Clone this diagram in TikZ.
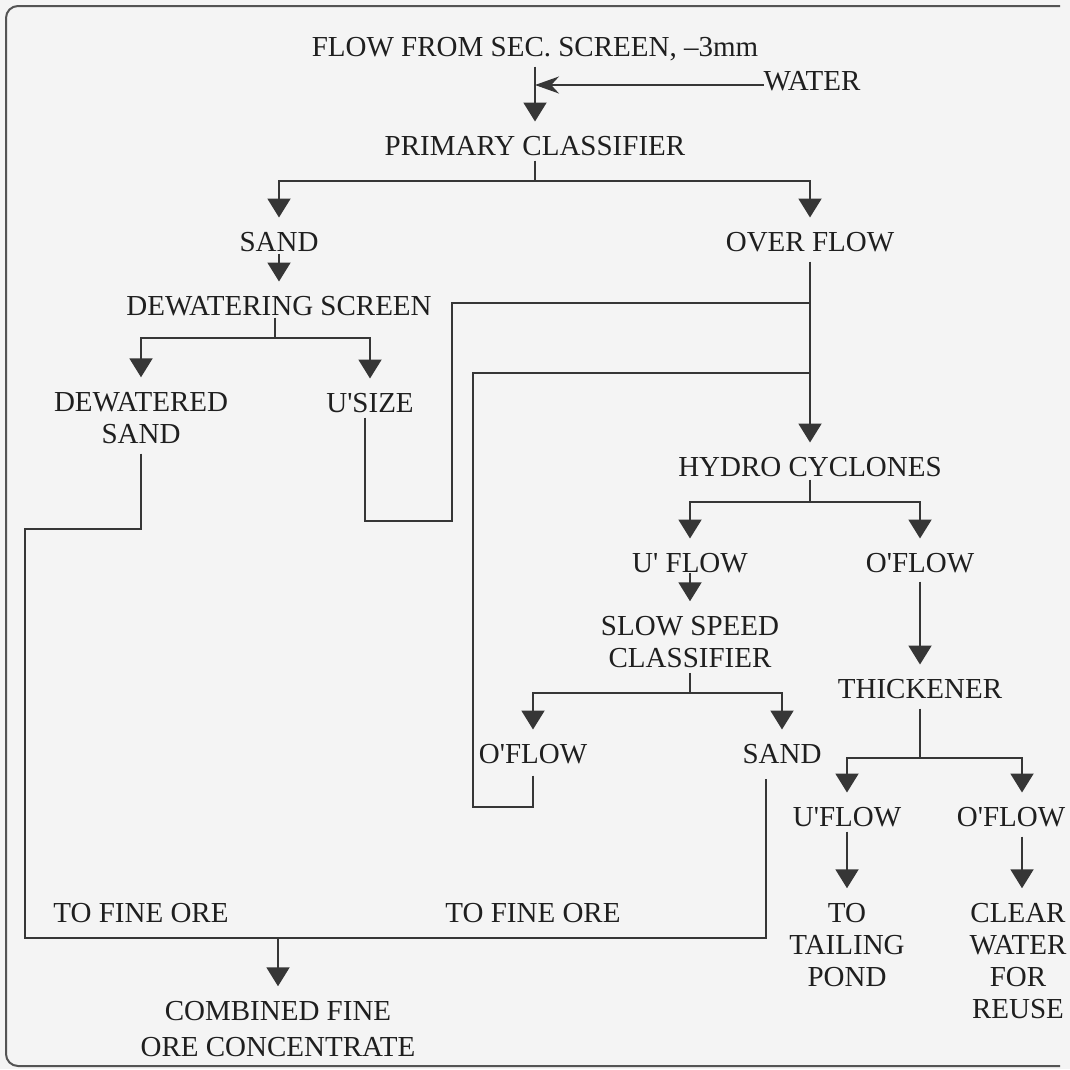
\documentclass[tikz,border=0pt]{standalone}
\usepackage{fontspec}
\setmainfont{Liberation Serif}
\usepackage{tikz}
\usetikzlibrary{arrows.meta, positioning}
\definecolor{FlowInk}{HTML}{363636}
\definecolor{FlowText}{HTML}{1F1F1F}
\definecolor{FlowPaper}{HTML}{F4F4F4}
\newcommand\apos{\textquotesingle}

\begin{document}
\begin{tikzpicture}[
    x=1pt, y=-1pt,
    on grid,
    >={Triangle[length=19pt, width=23pt]},
    every node/.style={inner sep=0pt, outer sep=0pt, text=FlowText,
                       font=\fontsize{29pt}{32pt}\selectfont},
    stream/.style={text height=19pt, text depth=0pt},
    block/.style={align=center},
    pipe/.style={draw=FlowInk, line width=2pt},
    arr/.style={pipe, ->, shorten >=15pt},
    waterarr/.style={pipe, -{Stealth[length=24pt, width=17pt]}},
    frame/.style={draw=FlowInk!85, line width=2pt, rounded corners=12pt}
]
\fill[FlowPaper] (0,0) rectangle (1070,1069);
\useasboundingbox (0,0) rectangle (1070,1069);

% --- Nodes --------------------------------------------------------------
\node[stream]                                   at (535,47) (feed)  {FLOW FROM SEC. SCREEN, –3mm};
\node[stream, below right=34pt and 277pt of feed] (water) {WATER};
\node[stream, below=99pt of feed]                (pc)    {PRIMARY CLASSIFIER};
\node[stream, below left=96pt and 256pt of pc]   (sand1) {SAND};
\node[stream, below right=96pt and 275pt of pc]  (over)  {OVER FLOW};
\node[stream, below=64pt of sand1]               (dw)    {DEWATERING SCREEN};
\node[block,  below left=112pt and 138pt of dw]  (dws)   {DEWATERED\\SAND};
\node[stream, below right=97pt and 91pt of dw]   (usize) {U\apos SIZE};
\node[stream, below=225pt of over]               (hc)    {HYDRO CYCLONES};
\node[stream, below left=96pt and 120pt of hc]   (uf)    {U\apos{} FLOW};
\node[stream, below right=96pt and 110pt of hc]  (of)    {O\apos FLOW};
\node[block,  below=79pt of uf]                  (ssc)   {SLOW SPEED\\CLASSIFIER};
\node[stream, below=126pt of of]                 (thick) {THICKENER};
\node[stream, below left=112pt and 157pt of ssc] (sof)   {O\apos FLOW};
\node[stream, below right=112pt and 92pt of ssc] (ssand) {SAND};
\node[stream, below=159pt of sof]                (tfo2)  {TO FINE ORE};
\node[stream, left=392pt of tfo2]                (tfo1)  {TO FINE ORE};
\node[block,  below right=116pt and 137pt of tfo1] (comb) {COMBINED FINE\\[4pt]ORE CONCENTRATE};
\node[stream, below left=128pt and 73pt of thick]  (tuf)  {U\apos FLOW};
\node[stream, below right=128pt and 91pt of thick] (tof)  {O\apos FLOW};
\node[block,  below=128pt of tuf]                  (pond) {TO\\TAILING\\POND};
\node[block,  below right=144pt and 7pt of tof]    (reuse) {CLEAR\\WATER\\FOR\\REUSE};

% --- Feed and water -----------------------------------------------------
\coordinate (winlet) at ([yshift=-4pt]water.west);
\draw[arr] ([yshift=-10pt]feed.south) -- (pc);
\draw[waterarr] (winlet) -- (winlet -| feed);

% --- Primary classifier -------------------------------------------------
\coordinate (pcsplit) at ([yshift=-25pt]pc.south);
\draw[pipe] ([yshift=-5pt]pc.south) -- (pcsplit);
\draw[arr] (pcsplit) -| (sand1);
\draw[arr] (pcsplit) -| (over);
\draw[arr] ([yshift=-2pt]sand1.south) -- (dw);
\draw[arr] ([yshift=-10pt]over.south) -- (hc);

% --- Dewatering screen --------------------------------------------------
\coordinate (dwsplit) at ([xshift=-4pt,yshift=-22pt]dw.south);
\draw[pipe] ([xshift=-4pt,yshift=-2pt]dw.south) -- (dwsplit);
\draw[arr] (dwsplit) -| (dws);
\draw[arr] (dwsplit) -| (usize);

% undersize back into the overflow line
\coordinate (ujoin) at ([yshift=-51pt]over.south);
\coordinate (ubend) at ([xshift=82pt,yshift=-108pt]usize.south);
\draw[pipe] ([xshift=-5pt,yshift=-5pt]usize.south) |- (ubend) |- (ujoin);

% --- Hydro cyclones -----------------------------------------------------
\coordinate (hcsplit) at ([yshift=-25pt]hc.south);
\draw[pipe] ([yshift=-3pt]hc.south) -- (hcsplit);
\draw[arr] (hcsplit) -| (uf);
\draw[arr] (hcsplit) -| (of);
\draw[arr] (uf) -- (ssc);
\draw[arr] ([yshift=-9pt]of.south) -- (thick);

% --- Slow speed classifier ----------------------------------------------
\coordinate (sscsplit) at ([yshift=-25pt]ssc.south);
\draw[pipe] ([yshift=-5pt]ssc.south) -- (sscsplit);
\draw[arr] (sscsplit) -| (sof);
\draw[arr] (sscsplit) -| (ssand);

% classifier overflow returns to cyclone feed
\coordinate (sjoin) at ([yshift=-121pt]over.south);
\coordinate (sbend) at ([xshift=-60pt,yshift=-43pt]sof.south);
\draw[pipe] ([yshift=-12pt]sof.south) |- (sbend) |- (sjoin);

% --- Fine ore -----------------------------------------------------------
\coordinate (dbend)  at ([xshift=-116pt,yshift=-85pt]dws.south);
\coordinate (orebus) at ([xshift=-16pt,yshift=-174pt]ssand.south);
\draw[pipe] ([yshift=-10pt]dws.south) |- (dbend) |- (orebus)
            -- ([xshift=-16pt,yshift=-15pt]ssand.south);
\draw[arr] (comb |- orebus) -- (comb);

% --- Thickener ----------------------------------------------------------
\coordinate (thsplit) at ([yshift=-59pt]thick.south);
\draw[pipe] ([yshift=-10pt]thick.south) -- (thsplit);
\draw[arr] (thsplit) -| (tuf);
\draw[arr] (thsplit) -| ([xshift=11pt]tof.north);
\draw[arr] ([yshift=-5pt]tuf.south) -- (pond);
\draw[arr] ([xshift=11pt,yshift=-10pt]tof.south) -- ([xshift=4pt]reuse.north);

% --- Frame --------------------------------------------------------------
\draw[frame] (1060,6) -- (6,6) -- (6,1066) -- (1060,1066);

\end{tikzpicture}
\end{document}
